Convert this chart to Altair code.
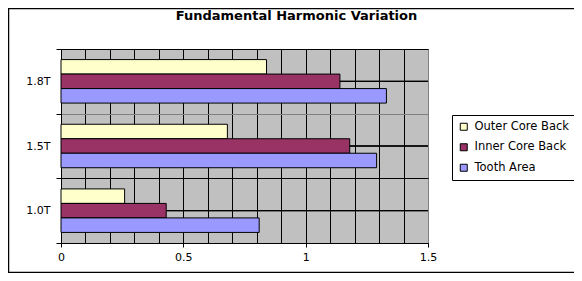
import altair as alt
import pandas as pd

categories = ["1.8T", "1.5T", "1.0T"]
series = ["Outer Core Back", "Inner Core Back", "Tooth Area"]
outer_core_back = [0.84, 0.68, 0.26]
inner_core_back = [1.14, 1.18, 0.43]
tooth_area = [1.33, 1.29, 0.81]
colors = ["#FFFFCC", "#993366", "#9999FF"]
x_grid_values = [0, 0.1, 0.2, 0.3, 0.4, 0.5, 0.6, 0.7, 0.8, 0.9, 1.0, 1.1, 1.2, 1.3, 1.4, 1.5]
title_text = ["Fundamental Harmonic Variation"]

rows = []
for i, c in enumerate(categories):
    for s, vals in zip(series, [outer_core_back, inner_core_back, tooth_area]):
        rows.append({"cat": c, "series": s, "value": vals[i]})
df = pd.DataFrame(rows)

FONT = "DejaVu Sans"

x_axis = alt.Axis(
    values=x_grid_values,
    format="~g",
    grid=True,
    gridColor={"condition": {"test": "datum.value >= 1.5", "value": "#808080"}, "value": "black"},
    gridWidth=1,
    labelExpr="round(datum.value*10) % 5 === 0 ? datum.label : ''",
    labelOverlap=False,
    labelFlush=False,
    tickOpacity={"condition": {"test": "round(datum.value*10) % 5 === 0", "value": 1}, "value": 0},
    tickSize=4,
    tickColor="black",
    domainColor="black",
    labelPadding=4,
    labelFont=FONT,
    labelFontSize=11,
    labelColor="black",
    title=None,
)

y_axis = alt.Axis(
    tickBand="extent",
    grid=True,
    gridColor={"condition": {"test": "datum.value === '1.8T'", "value": "#808080"}, "value": "black"},
    gridWidth=1,
    tickSize=5,
    tickColor="black",
    domainColor="black",
    labelPadding=6,
    labelFont=FONT,
    labelFontSize=11,
    labelColor="black",
    title=None,
)

y_scale = alt.Scale(domain=categories, paddingInner=0, paddingOuter=0)

base = alt.Chart(df)

mid_rules = base.mark_rule(color="black", strokeWidth=1).encode(
    y=alt.Y("cat:N", sort=categories, scale=y_scale, axis=y_axis, bandPosition=0.5),
)

bars = base.mark_bar(stroke="black", strokeWidth=1).encode(
    x=alt.X("value:Q", scale=alt.Scale(domain=[0, 1.5], nice=False, zero=True), axis=x_axis),
    y=alt.Y("cat:N", sort=categories, scale=y_scale, axis=y_axis),
    yOffset=alt.YOffset("series:N", sort=series,
                        scale=alt.Scale(domain=series, paddingInner=0, paddingOuter=0.73)),
    color=alt.Color(
        "series:N",
        sort=series,
        scale=alt.Scale(domain=series, range=colors),
        legend=alt.Legend(
            title=None,
            orient="none",
            legendX=391,
            legendY=66,
            strokeColor="black",
            fillColor="white",
            padding=6,
            symbolType="square",
            symbolSize=49,
            symbolStrokeColor="black",
            symbolStrokeWidth=1,
            labelFont=FONT,
            labelFontSize=11.5,
            labelColor="black",
            labelOffset=5,
            rowPadding=7.5,
        ),
    ),
)

frame = alt.Chart(pd.DataFrame({"a": [0]})).mark_rect(
    filled=False, stroke="black", strokeWidth=1.5, clip=False
).encode(
    x=alt.value(-52.5),
    x2=alt.value(600),
    y=alt.value(-40.5),
    y2=alt.value(223.5),
)

title = alt.Chart(pd.DataFrame({"t": title_text})).mark_text(
    font=FONT, fontSize=13, fontWeight="bold", color="black",
    align="center", baseline="alphabetic", clip=False
).encode(
    text="t:N",
    x=alt.value(235.5),
    y=alt.value(-29.5),
)

chart = alt.layer(mid_rules, bars, frame, title).properties(
    width=367,
    height=194,
    autosize=alt.AutoSizeParams(type="none"),
    padding={"left": 53, "top": 41, "right": 146, "bottom": 30},
).configure_view(
    fill="#C0C0C0", stroke="#808080", strokeWidth=1
)

chart.save("out.html", embed_options={"renderer": "svg", "actions": False})
